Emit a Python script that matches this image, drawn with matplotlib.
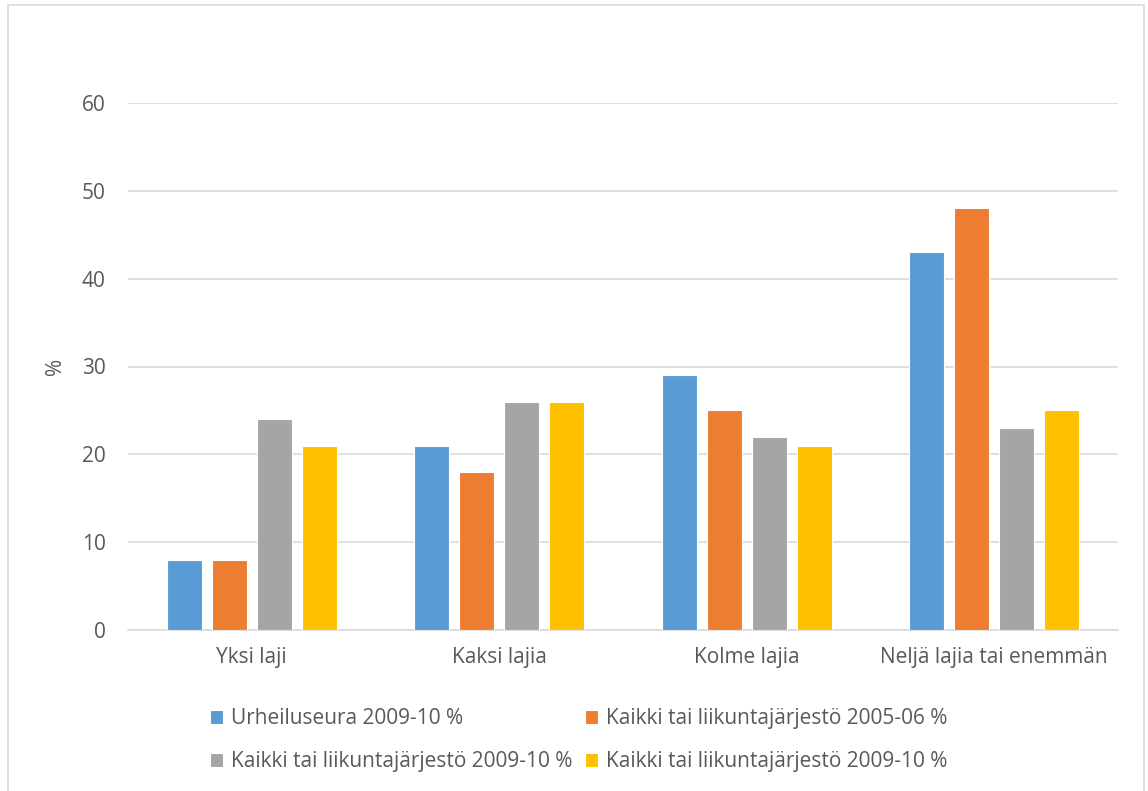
import numpy as np
import matplotlib.pyplot as plt
from matplotlib.patches import Rectangle

categories = ["Yksi laji", "Kaksi lajia", "Kolme lajia", "Neljä lajia tai enemmän"]
series_labels = [
    "Urheiluseura 2009-10 %",
    "Kaikki tai liikuntajärjestö 2005-06 %",
    "Kaikki tai liikuntajärjestö 2009-10 %",
    "Kaikki tai liikuntajärjestö 2009-10 %",
]
urheiluseura_0910 = [8, 21, 29, 43]
kaikki_0506 = [8, 18, 25, 48]
kaikki_0910_a = [24, 26, 22, 23]
kaikki_0910_b = [21, 26, 21, 25]
yticks = [0, 10, 20, 30, 40, 50, 60]

colors = ['#5B9BD5', '#ED7D31', '#A5A5A5', '#FFC000']
text_color = '#595959'
plt.rcParams['font.family'] = ['Open Sans', 'DejaVu Sans']
fs = 15

fig = plt.figure(figsize=(11.48, 7.91), dpi=100)
ax = fig.add_axes([128/1148, 1 - 630/791, 990/1148, 527/791])

# light frame around the chart area
fig.patches.append(Rectangle((8/1148, -0.05), 1136/1148, 1.05 - 5/791,
                             transform=fig.transFigure, fill=False,
                             edgecolor='#D9D9D9', linewidth=1.2))

x = np.arange(len(categories))
step = 45/247.5
width = 35/247.5
all_series = [urheiluseura_0910, kaikki_0506, kaikki_0910_a, kaikki_0910_b]
handles = []
for i, vals in enumerate(all_series):
    b = ax.bar(x + (i - 1.5) * step, vals, width, color=colors[i],
               edgecolor='white', linewidth=0.8, zorder=3, label=series_labels[i])
    handles.append(b)

ax.set_xlim(-0.5, len(categories) - 0.5)
ax.set_ylim(0, 60)
ax.set_yticks(yticks)
ax.set_xticks(x)
ax.set_xticklabels(categories)
ax.yaxis.grid(True, color='#D9D9D9', linewidth=1.2, zorder=0)
ax.set_axisbelow(True)
for s in ['top', 'right', 'left']:
    ax.spines[s].set_visible(False)
ax.spines['bottom'].set_color('#D9D9D9')
ax.spines['bottom'].set_linewidth(1.2)
ax.tick_params(axis='both', length=0, labelsize=fs, colors=text_color)
ax.tick_params(axis='y', pad=16)
ax.tick_params(axis='x', pad=12)
ax.set_ylabel('%', fontsize=fs, color=text_color)
ax.yaxis.set_label_coords(-62/990, 0.5)

# row-wise order for a 2-column legend
order = [0, 2, 1, 3]
fig.legend(handles=[handles[i] for i in order],
           labels=[series_labels[i] for i in order], ncol=2,
           loc='upper left', bbox_to_anchor=(200/1148, 1 - 698/791),
           frameon=False, fontsize=fs, labelcolor=text_color,
           handlelength=0.6, handleheight=0.6, handletextpad=0.4,
           columnspacing=0.6, labelspacing=1.05, borderpad=0)

plt.savefig('out.png', dpi=100)
plt.close()
